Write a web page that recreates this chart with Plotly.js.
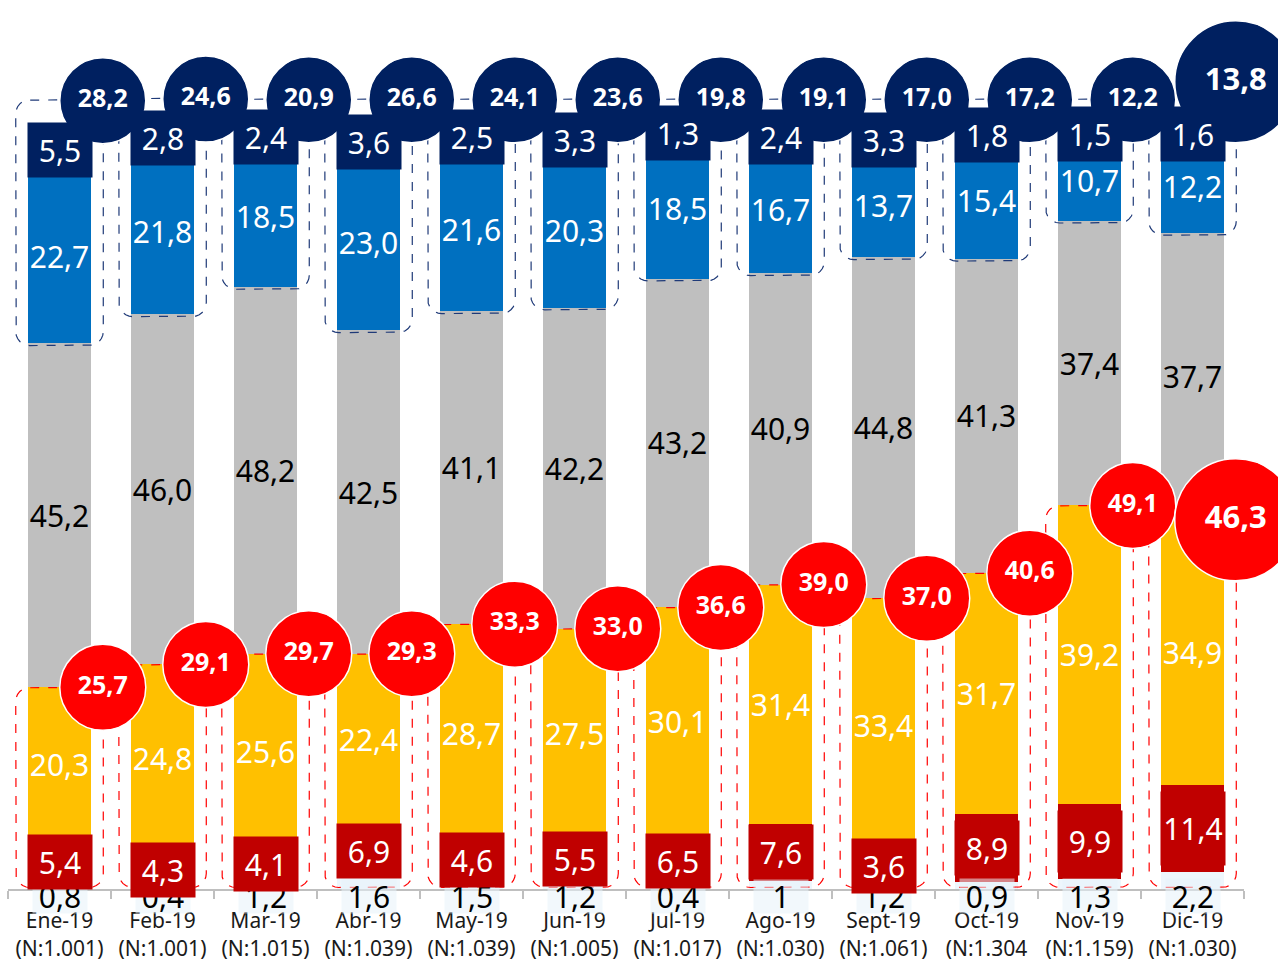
<!DOCTYPE html>
<html>
<head>
<meta charset="utf-8">
<script src="https://cdn.plot.ly/plotly-3.0.1.min.js"></script>
<style>
  html, body { margin: 0; padding: 0; background: #fff; }
  #chart { width: 1278px; height: 963px; }
</style>
</head>
<body>
<div id="chart"></div>
<script>
// ── Datos ──────────────────────────────────────────────────────────────────────
const months  = ["Ene-19", "Feb-19", "Mar-19", "Abr-19", "May-19", "Jun-19",
                 "Jul-19", "Ago-19", "Sept-19", "Oct-19", "Nov-19", "Dic-19"];
const sampleN = ["(N:1.001)", "(N:1.001)", "(N:1.015)", "(N:1.039)", "(N:1.039)", "(N:1.005)",
                 "(N:1.017)", "(N:1.030)", "(N:1.061)", "(N:1.304", "(N:1.159)", "(N:1.030)"];

const nsnc    = [0.8, 0.4, 1.2, 1.6, 1.5, 1.2, 0.4, 1, 1.2, 0.9, 1.3, 2.2];
const muyMala = [5.4, 4.3, 4.1, 6.9, 4.6, 5.5, 6.5, 7.6, 3.6, 8.9, 9.9, 11.4];
const mala    = [20.3, 24.8, 25.6, 22.4, 28.7, 27.5, 30.1, 31.4, 33.4, 31.7, 39.2, 34.9];
const regular = [45.2, 46.0, 48.2, 42.5, 41.1, 42.2, 43.2, 40.9, 44.8, 41.3, 37.4, 37.7];
const buena   = [22.7, 21.8, 18.5, 23.0, 21.6, 20.3, 18.5, 16.7, 13.7, 15.4, 10.7, 12.2];
const muyBuena = [5.5, 2.8, 2.4, 3.6, 2.5, 3.3, 1.3, 2.4, 3.3, 1.8, 1.5, 1.6];

// ── Estilo ─────────────────────────────────────────────────────────────────────
const C = {
  navy: "#002060", blue: "#0070C0", gray: "#BFBFBF", yellow: "#FFC000",
  darkRed: "#C00000", pale: "#EEF6FC", red: "#FF0000", boxNavy: "#1F3A78",
};
const FONT = "Noto Sans, Open Sans, sans-serif";
const M = { l: 8, r: 34, t: 0, b: 74 };
const Y_MAX = 116.8;
const PX_X = (1278 - M.l - M.r) / months.length;   // px por categoría
const PX_Y = (963 - M.t - M.b) / Y_MAX;             // px por unidad
const BAR_W = 0.62;
const BUBBLE_DX = 0.42;

const idx = months.map((_, i) => i);
const fmt = v => v.toFixed(1).replace(".", ",");
const fmtShort = v => Number.isInteger(v) ? String(v) : fmt(v);

// acumulados
const baseMala    = idx.map(i => nsnc[i] + muyMala[i]);
const topMala     = idx.map(i => baseMala[i] + mala[i]);
const baseBuena   = idx.map(i => topMala[i] + regular[i]);
const baseMuyB    = idx.map(i => baseBuena[i] + buena[i]);
const totalBar    = idx.map(i => baseMuyB[i] + muyBuena[i]);
const sumNeg      = idx.map(i => muyMala[i] + mala[i]);
const sumPos      = idx.map(i => muyBuena[i] + buena[i]);
const bubbleSize  = idx.map(i => i === months.length - 1 ? 122 : 86);

// ── Barras ─────────────────────────────────────────────────────────────────────
function barTrace(vals, color, textColor, withText) {
  return {
    type: "bar", x: idx, y: vals, width: BAR_W,
    marker: { color: color, line: { width: 0 } },
    text: withText ? vals.map(fmt) : undefined,
    texttemplate: withText ? "%{text}" : undefined,
    textposition: withText ? "inside" : "none",
    insidetextanchor: "middle",
    textangle: 0,
    constraintext: "none",
    textfont: { family: FONT, size: 30, color: textColor },
    hoverinfo: "skip",
  };
}

const bars = [
  barTrace(nsnc, C.pale, "#000", false),
  barTrace(muyMala, C.darkRed, "#fff", false),
  barTrace(mala, C.yellow, "#fff", true),
  barTrace(regular, C.gray, "#000", true),
  barTrace(buena, C.blue, "#fff", true),
  barTrace(muyBuena, C.navy, "#fff", false),
];

// ── Recuadros punteados con esquinas redondeadas ───────────────────────────────
function roundedBox(x0, x1, y0, y1, r) {
  const rx = r / PX_X, ry = r / PX_Y;
  const xs = [], ys = [];
  const corner = (cx, cy, a0) => {
    for (let k = 0; k <= 6; k++) {
      const a = (a0 + k * 15) * Math.PI / 180;
      xs.push(cx + rx * Math.cos(a));
      ys.push(cy + ry * Math.sin(a));
    }
  };
  corner(x1 - rx, y1 - ry, 0);
  corner(x0 + rx, y1 - ry, 90);
  corner(x0 + rx, y0 + ry, 180);
  corner(x1 - rx, y0 + ry, 270);
  xs.push(xs[0]); ys.push(ys[0]);
  xs.push(null); ys.push(null);
  return { xs, ys };
}

function boxTrace(color, y0s, y1s) {
  const xs = [], ys = [];
  idx.forEach(i => {
    const b = roundedBox(i - 0.425, i + 0.425, y0s[i], y1s[i], 14);
    xs.push(...b.xs); ys.push(...b.ys);
  });
  return {
    type: "scatter", mode: "lines", x: xs, y: ys,
    line: { color: color, width: 1.2, dash: "dash" },
    hoverinfo: "skip", connectgaps: false,
  };
}

const boxes = [
  boxTrace(C.boxNavy, baseBuena.map(v => v - 0.3), totalBar.map(v => v + 3.8)),
  boxTrace(C.red, idx.map(() => 0.2), topMala),
];

// ── Burbujas de totales ────────────────────────────────────────────────────────
function bubbleTrace(vals, ys, color) {
  return {
    type: "scatter", mode: "markers+text",
    x: idx.map(i => i + BUBBLE_DX), y: ys,
    text: vals.map(fmt),
    textposition: "middle center",
    textfont: { family: FONT, size: idx.map(i => bubbleSize[i] > 100 ? 31 : 25), color: "#fff", weight: "bold" },
    marker: { size: bubbleSize, color: color, line: { color: "#fff", width: 1.5 }, opacity: 1 },
    cliponaxis: false,
    hoverinfo: "skip",
  };
}

const bubbles = [
  bubbleTrace(sumPos, idx.map(i => totalBar[i] + (bubbleSize[i] / 2 - 15) / PX_Y), C.navy),
  bubbleTrace(sumNeg, topMala, C.red),
];

// ── Etiquetas con fondo (segmentos pequeños) ───────────────────────────────────
const annotations = [];
idx.forEach(i => {
  annotations.push({
    x: i, y: 0, xref: "x", yref: "y", yanchor: "middle", yshift: -7,
    text: fmtShort(nsnc[i]), showarrow: false,
    font: { family: FONT, size: 30, color: "#000" },
    bgcolor: "rgba(232,242,250,0.55)", width: 54, height: 34, borderpad: 0,
  });
});
idx.forEach(i => {
  annotations.push({
    x: i, y: nsnc[i] + muyMala[i] / 2, xref: "x", yref: "y", yanchor: "middle",
    text: fmt(muyMala[i]), showarrow: false,
    font: { family: FONT, size: 30, color: "#fff" },
    bgcolor: C.darkRed, width: 64, height: Math.max(54, muyMala[i] * PX_Y - 14), borderpad: 0,
  });
  annotations.push({
    x: i, y: baseMuyB[i] + muyBuena[i] / 2, xref: "x", yref: "y", yanchor: "middle",
    text: fmt(muyBuena[i]), showarrow: false,
    font: { family: FONT, size: 30, color: "#fff" },
    bgcolor: C.navy, width: 64, height: 54, borderpad: 0,
  });
});

// ── Layout ─────────────────────────────────────────────────────────────────────
const layout = {
  width: 1278, height: 963,
  margin: M,
  paper_bgcolor: "#fff", plot_bgcolor: "#fff",
  barmode: "stack",
  showlegend: false,
  separators: ",.",
  font: { family: FONT, color: "#222" },
  xaxis: {
    range: [-0.5, months.length - 0.5],
    tickvals: idx,
    ticktext: idx.map(i => months[i] + "<br>" + sampleN[i]),
    tickfont: { family: FONT, size: 21, color: "#1a1a1a" },
    ticks: "",
    ticklabelstandoff: 12,
    showgrid: false, zeroline: false,
    showline: true, linecolor: "#BFBFBF", linewidth: 2,
    minor: {
      tickvals: idx.concat([months.length]).map(i => i - 0.5),
      ticks: "outside", ticklen: 8, tickcolor: "#BFBFBF", tickwidth: 2, showgrid: false,
    },
    fixedrange: true,
  },
  yaxis: { range: [0, Y_MAX], visible: false, fixedrange: true },
  annotations: annotations,
};

Plotly.newPlot("chart", [...bars, ...boxes, ...bubbles], layout,
  { displayModeBar: false, responsive: false, staticPlot: true });
</script>
</body>
</html>
